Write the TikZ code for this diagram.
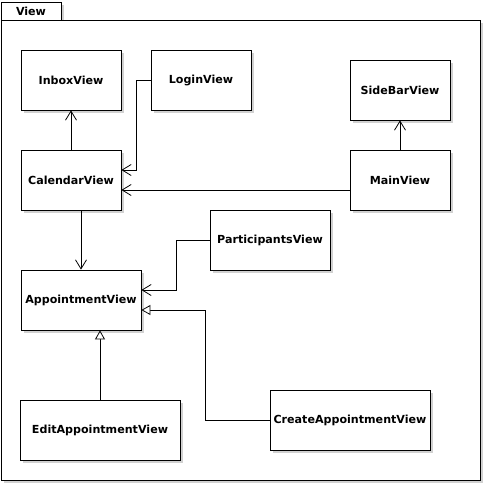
\documentclass[tikz,border=0pt]{standalone}
\usepackage{fontspec}
\setmainfont{DejaVu Sans}
\usetikzlibrary{arrows.meta,shadows}
\tikzset{
  lbl/.style={font=\fontsize{11.1}{13}\selectfont\bfseries},
  cls/.style={draw, line width=0.8pt, fill=white, minimum height=60pt, minimum width=100pt,
    inner sep=0pt, lbl,
    general shadow={fill=black!18, shadow xshift=3pt, shadow yshift=-3pt}},
  wide/.style={minimum width=120pt},
  wider/.style={minimum width=160pt},
  conn/.style={line width=0.8pt},
  dep/.style={conn, -{Straight Barb[length=9pt,width=11pt,line width=0.8pt]}},
  inh/.style={conn, -{Triangle[open,length=9pt,width=10pt,line width=0.8pt,fill=white]}},
}
\begin{document}
\begin{tikzpicture}[x=1pt,y=-1pt]
\useasboundingbox (0,0) rectangle (485,485);
% package frame with shadow
\fill[black!18] (4,23) rectangle (483,483);
\fill[black!18] (4,5) rectangle (64,23);
\draw[line width=0.8pt, fill=white] (1,20) rectangle (480,480);
\draw[line width=0.8pt, fill=white] (1,2) rectangle (61,20);
\node[lbl] (pkg) at (31,11.5) {View};
% classes
\node[cls] (inbox) at (71,80) {InboxView};
\node[cls] (login) at (201,80) {LoginView};
\node[cls] (sidebar) at (400,90) {SideBarView};
\node[cls] (cal) at (71,180) {CalendarView};
\node[cls] (main) at (400,180) {MainView};
\node[cls,wide] (part) at (270,240) {ParticipantsView};
\node[cls,wide] (app) at (81,300) {AppointmentView};
\node[cls,wider] (edit) at (100,430) {EditAppointmentView};
\node[cls,wider] (create) at (350,420) {CreateAppointmentView};
% helper coordinates
\coordinate (c1) at (136,170);
\coordinate (c2) at (176,290);
\coordinate (c3) at (205,310);
% connectors
\draw[dep] (cal.north) -- (inbox.south);
\draw[dep] (login.west) -| (c1) -- (c1 -| cal.east);
\draw[dep] ([yshift=-10pt]main.west) -- ([yshift=-10pt]cal.east);
\draw[dep] (main.north) -- (sidebar.south);
\draw[dep] ([xshift=10pt]cal.south) -- (app.north);
\draw[dep] (part.west) -| (c2) -- (c2 -| app.east);
\draw[inh] (create.west) -| (c3) -- (c3 -| app.east);
\draw[inh] (edit.north) -- (edit.north |- app.south);
\end{tikzpicture}
\end{document}
